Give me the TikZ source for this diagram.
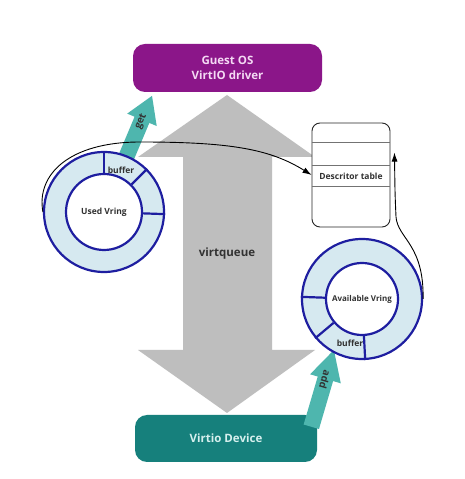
\documentclass[tikz,border=0pt]{standalone}
\usepackage{fontspec}
\setmainfont{Open Sans}
\usetikzlibrary{arrows.meta,calc}
\definecolor{guestc}{RGB}{139,22,137}
\definecolor{guesttxt}{RGB}{244,218,244}
\definecolor{devc}{RGB}{22,128,124}
\definecolor{devtxt}{RGB}{214,240,238}
\definecolor{tealarrow}{RGB}{78,182,174}
\definecolor{ringfill}{RGB}{214,233,240}
\definecolor{ringc}{RGB}{30,30,160}
\definecolor{grayc}{RGB}{190,190,190}
\definecolor{txtc}{RGB}{50,50,50}
\begin{document}
\begin{tikzpicture}[x=1pt,y=1pt,font=\bfseries,
  bigbox/.style={rounded corners=12pt,minimum width=189pt,minimum height=48pt,align=center,font=\bfseries\fontsize{11.5}{14.5}\selectfont},
  ring/.style={circle,draw=ringc,line width=2.2pt,fill=ringfill,inner sep=0pt},
  innerring/.style={circle,draw=ringc,line width=2.2pt,fill=white,inner sep=0pt,text=txtc,font=\bfseries\fontsize{8.5}{10}\selectfont},
  ringline/.style={draw=ringc,line width=2.2pt},
  smalltxt/.style={text=txtc,font=\bfseries\fontsize{8.5}{10}\selectfont,inner sep=0pt},
  curve/.style={draw=black,line width=0.9pt,-{Latex[length=9pt,width=6pt]}},
  fatarrow/.style={fill=tealarrow}
]
\useasboundingbox (0,0) rectangle (465,479);
\fill[white] (0,0) rectangle (465,479);

% big grey double arrow
\fill[grayc] (227,384) -- (315,322) -- (272,322) -- (272,129) -- (315,129) -- (227,66)
  -- (138,129) -- (183,129) -- (183,322) -- (138,322) -- cycle;
\node[text=txtc,font=\bfseries\fontsize{11.5}{13}\selectfont] (vq) at (227,225) {virtqueue};

% boxes
\node[bigbox,fill=guestc,text=guesttxt] (guest) at (227.5,411) {Guest OS\\VirtIO driver};
\node[bigbox,fill=devc,text=devtxt,minimum width=182pt,minimum height=47pt] (dev) at (226,40.5) {Virtio Device};

% teal fat arrows
\begin{scope}[shift={(128,326)},rotate=67.2]
  \fill[fatarrow] (-10,-8) -- (36,-8) -- (36,-16) -- (62,0) -- (36,16) -- (36,8) -- (-10,8) -- cycle;
  \node[smalltxt,transform shape,font=\bfseries\fontsize{10}{11}\selectfont] (gettxt) at (34,0) {get};
\end{scope}
\begin{scope}[shift={(313,58)},rotate=73.6]
  \fill[fatarrow] (-6,-8) -- (44,-8) -- (44,-16) -- (74,0) -- (44,16) -- (44,8) -- (-6,8) -- cycle;
  \node[smalltxt,transform shape,rotate=180,font=\bfseries\fontsize{10}{11}\selectfont] (addtxt) at (43,0) {add};
\end{scope}

% Used Vring
\node[ring,minimum size=120pt] (used) at (104,267) {};
\node[innerring,minimum size=76pt] (usedin) at (used.center) {Used Vring};
\draw[ringline] (usedin.90) -- (used.90);
\draw[ringline] (usedin.45) -- (used.45);
\draw[ringline] (usedin.-2) -- (used.-2);
\node[smalltxt] (usedbuf) at (121,309) {buffer};

% Available Vring
\node[ring,minimum size=120pt] (avail) at (362,180) {};
\node[innerring,minimum size=72pt,font=\bfseries\fontsize{8}{9}\selectfont] (availin) at (avail.center) {Available Vring};
\draw[ringline] (availin.178) -- (avail.178);
\draw[ringline] (availin.220) -- (avail.220);
\draw[ringline] (availin.273) -- (avail.273);
\node[smalltxt] (availbuf) at (350,136) {buffer};

% Descriptor table
\node[draw=black!85,rounded corners=8pt,minimum width=78pt,minimum height=104pt,fill=white,line width=0.9pt] (desc) at (351,304) {};
\draw[black!55,line width=0.8pt] ($(desc.north west)+(0,-20)$) -- ($(desc.north east)+(0,-20)$);
\draw[black!55,line width=0.8pt] ($(desc.north west)+(0,-43)$) -- ($(desc.north east)+(0,-43)$);
\draw[black!55,line width=0.8pt] ($(desc.north west)+(0,-64)$) -- ($(desc.north east)+(0,-64)$);
\node[smalltxt] (desctxt) at (351,302.5) {Descritor table};
\coordinate (dtip) at ($(desc.north east)+(4,-30)$);

% curves
\draw[curve] (used.west) .. controls (36,305) and (70,337) .. (140,337)
  .. controls (230,337) and (270,330) .. (desc.west);
\draw[curve] (avail.east) .. controls (424,235) and (398,240) .. (396,262)
  .. controls (395,285) .. (dtip);
\end{tikzpicture}
\end{document}
